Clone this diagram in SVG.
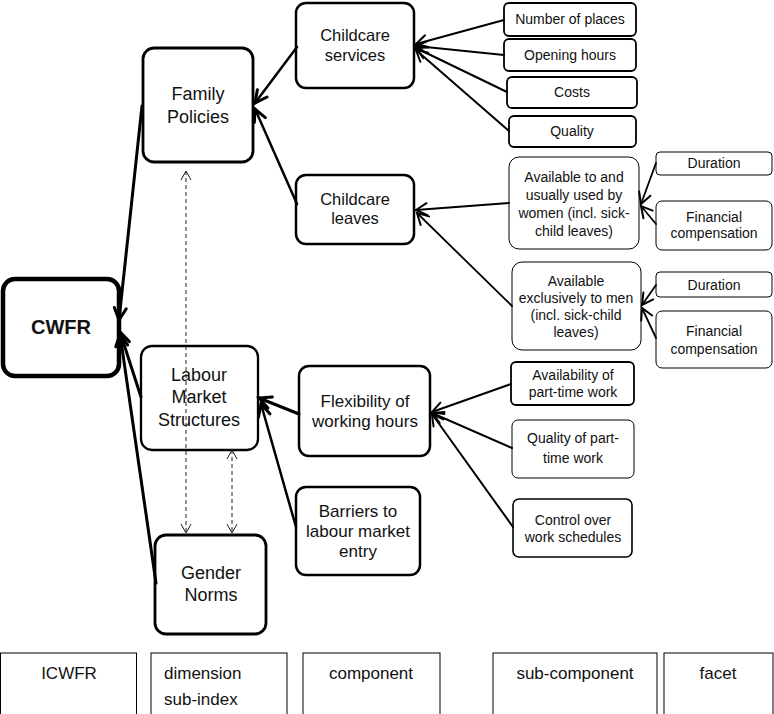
<svg xmlns="http://www.w3.org/2000/svg" width="774" height="714" viewBox="0 0 774 714">
<style>
text{font-family:"Liberation Sans",Arial,sans-serif;fill:#111;text-anchor:middle}
.t18{font-size:18px}.t17{font-size:17px}.t16{font-size:16.5px}.t14{font-size:14px}
.b{fill:#fff;stroke:#000}
.lg{fill:#fff;stroke:#000;stroke-width:1}
.c{fill:none;stroke:#000;stroke-linecap:round}
.d{fill:none;stroke:#222;stroke-width:1;stroke-dasharray:4 3}
</style>
<defs>
<marker id="aT" viewBox="-16 -10 20 20" refX="0" refY="0" markerWidth="20" markerHeight="20" markerUnits="userSpaceOnUse" orient="auto-start-reverse"><path d="M-12,-6 L0,0 L-12,6" fill="none" stroke="#000" stroke-width="3" stroke-linecap="round"/></marker>
<marker id="aM" viewBox="-16 -10 20 20" refX="0" refY="0" markerWidth="20" markerHeight="20" markerUnits="userSpaceOnUse" orient="auto-start-reverse"><path d="M-11,-6 L0,0 L-11,6" fill="none" stroke="#000" stroke-width="2" stroke-linecap="round"/></marker>
<marker id="aD" viewBox="-16 -10 20 20" refX="0" refY="0" markerWidth="20" markerHeight="20" markerUnits="userSpaceOnUse" orient="auto-start-reverse"><path d="M-9,-5 L0,0 L-9,5" fill="none" stroke="#222" stroke-width="1"/></marker>
</defs>

<g id="cwfr"><rect class="b" x="3" y="279" width="116" height="97" rx="12" stroke-width="4.5"/><text x="61" y="334" style="font-size:20px;font-weight:bold">CWFR</text></g>
<g id="family-policies"><rect class="b" x="143" y="48" width="110" height="114" rx="11" stroke-width="2.8"/><text class="t18" x="198" y="100">Family</text><text class="t18" x="198" y="123">Policies</text></g>
<g id="labour-market"><rect class="b" x="141" y="346" width="117" height="104" rx="11" stroke-width="2.3"/><text class="t18" x="199" y="381">Labour</text><text class="t18" x="199" y="403">Market</text><text class="t18" x="199" y="426">Structures</text></g>
<g id="gender-norms"><rect class="b" x="155" y="535" width="111" height="99" rx="11" stroke-width="2.8"/><text class="t18" x="211" y="579">Gender</text><text class="t18" x="211" y="601">Norms</text></g>

<g id="childcare-services"><rect class="b" x="296" y="3" width="118" height="85" rx="10" stroke-width="2.5"/><text class="t16" x="355" y="40.5">Childcare</text><text class="t16" x="355" y="60.5">services</text></g>
<g id="childcare-leaves"><rect class="b" x="296" y="175" width="118" height="69" rx="10" stroke-width="2.5"/><text class="t16" x="355" y="204.5">Childcare</text><text class="t16" x="355" y="223.5">leaves</text></g>
<g id="flexibility"><rect class="b" x="299" y="366" width="131" height="90" rx="10" stroke-width="2.5"/><text class="t17" x="365" y="406.5">Flexibility of</text><text class="t17" x="365" y="426.5">working hours</text></g>
<g id="barriers"><rect class="b" x="296" y="487" width="124" height="88" rx="10" stroke-width="2.5"/><text class="t17" x="358" y="516.5">Barriers to</text><text class="t17" x="358" y="536.5">labour market</text><text class="t17" x="358" y="556.5">entry</text></g>

<g id="number-of-places"><rect class="b" x="504" y="3" width="132" height="33" rx="5" stroke-width="1.8"/><text class="t14" x="570" y="24">Number of places</text></g>
<g id="opening-hours"><rect class="b" x="504" y="39" width="132" height="32" rx="5" stroke-width="1.8"/><text class="t14" x="570" y="60">Opening hours</text></g>
<g id="costs"><rect class="b" x="507" y="77" width="130" height="31" rx="5" stroke-width="1.8"/><text class="t14" x="572" y="97">Costs</text></g>
<g id="quality"><rect class="b" x="509" y="116" width="127" height="31" rx="5" stroke-width="1.8"/><text class="t14" x="572" y="136">Quality</text></g>
<g id="available-women"><rect class="b" x="509" y="157" width="130" height="92" rx="10" stroke-width="1" stroke="#444"/><text class="t14" x="574" y="182">Available to and</text><text class="t14" x="574" y="200">usually used by</text><text class="t14" x="574" y="218">women (incl. sick-</text><text class="t14" x="574" y="236">child leaves)</text></g>
<g id="duration-1"><rect class="b" x="656" y="152" width="116" height="23" rx="4" stroke-width="1" stroke="#444"/><text class="t14" x="714" y="168">Duration</text></g>
<g id="financial-1"><rect class="b" x="656" y="201" width="116" height="49" rx="6" stroke-width="1" stroke="#444"/><text class="t14" x="714" y="222">Financial</text><text class="t14" x="714" y="238">compensation</text></g>
<g id="available-men"><rect class="b" x="512" y="262" width="129" height="88" rx="10" stroke-width="1" stroke="#444"/><text class="t14" x="576" y="286">Available</text><text class="t14" x="576" y="303">exclusively to men</text><text class="t14" x="576" y="320">(incl. sick-child</text><text class="t14" x="576" y="337">leaves)</text></g>
<g id="duration-2"><rect class="b" x="656" y="272" width="116" height="25" rx="4" stroke-width="1" stroke="#444"/><text class="t14" x="714" y="290">Duration</text></g>
<g id="financial-2"><rect class="b" x="656" y="311" width="116" height="57" rx="6" stroke-width="1" stroke="#444"/><text class="t14" x="714" y="336">Financial</text><text class="t14" x="714" y="354">compensation</text></g>
<g id="availability-part-time"><rect class="b" x="511" y="362" width="123" height="43" rx="5" stroke-width="1.8"/><text class="t14" x="573" y="380">Availability of</text><text class="t14" x="573" y="397">part-time work</text></g>
<g id="quality-part-time"><rect class="b" x="512" y="420" width="122" height="58" rx="6" stroke-width="1" stroke="#444"/><text class="t14" x="573" y="443">Quality of part-</text><text class="t14" x="573" y="463">time work</text></g>
<g id="control-schedules"><rect class="b" x="513" y="499" width="119" height="58" rx="6" stroke-width="1.6"/><text class="t14" x="573" y="525">Control over</text><text class="t14" x="573" y="542">work schedules</text></g>

<g id="legend">
<rect class="lg" x="0.5" y="653" width="136" height="70"/><text class="t17" x="69" y="679">ICWFR</text>
<rect class="lg" x="151" y="653" width="136" height="70"/><text class="t17" x="164" y="679" style="text-anchor:start">dimension</text><text class="t17" x="164" y="705" style="text-anchor:start">sub-index</text>
<rect class="lg" x="303" y="653" width="137" height="70"/><text class="t17" x="371" y="679">component</text>
<rect class="lg" x="493" y="653" width="164" height="70"/><text class="t17" x="575" y="679">sub-component</text>
<rect class="lg" x="664" y="653" width="109" height="70"/><text class="t17" x="718" y="679">facet</text>
</g>

<g id="connectors">
<path class="c" d="M142,106 L119,320" stroke-width="3" marker-end="url(#aT)"/>
<path class="c" d="M141,397 L120,332" stroke-width="3" marker-end="url(#aT)"/>
<path class="c" d="M156,583 L120,334" stroke-width="3" marker-end="url(#aT)"/>
<path class="c" d="M297,47 L255,103" stroke-width="2.5" marker-end="url(#aT)"/>
<path class="c" d="M297,204 L255,109" stroke-width="2.5" marker-end="url(#aT)"/>
<path class="c" d="M504,20 L416,44" stroke-width="2" marker-end="url(#aM)"/>
<path class="c" d="M504,55 L416,46" stroke-width="2" marker-end="url(#aM)"/>
<path class="c" d="M507,92 L416,48" stroke-width="2" marker-end="url(#aM)"/>
<path class="c" d="M509,131 L416,50" stroke-width="2" marker-end="url(#aM)"/>
<path class="c" d="M509,203 L416,210" stroke-width="1.8" marker-end="url(#aM)"/>
<path class="c" d="M512,306 L417,213" stroke-width="1.8" marker-end="url(#aM)"/>
<path class="c" d="M656,163 L641,204" stroke-width="1.8" marker-end="url(#aM)"/>
<path class="c" d="M656,224 L641,206" stroke-width="1.8" marker-end="url(#aM)"/>
<path class="c" d="M656,285 L642,305" stroke-width="1.8" marker-end="url(#aM)"/>
<path class="c" d="M656,338 L642,308" stroke-width="1.8" marker-end="url(#aM)"/>
<path class="c" d="M299,414 L259,398" stroke-width="3" marker-end="url(#aT)"/>
<path class="c" d="M296,527 L261,404" stroke-width="2.5" marker-end="url(#aT)"/>
<path class="c" d="M511,384 L432,412" stroke-width="2" marker-end="url(#aM)"/>
<path class="c" d="M512,448 L432,413" stroke-width="2" marker-end="url(#aM)"/>
<path class="c" d="M513,527 L432,414" stroke-width="2" marker-end="url(#aM)"/>
<path class="d" d="M186,171 L186,533" marker-start="url(#aD)" marker-end="url(#aD)"/>
<path class="d" d="M232,450 L232,533" marker-start="url(#aD)" marker-end="url(#aD)"/>
</g>
</svg>
